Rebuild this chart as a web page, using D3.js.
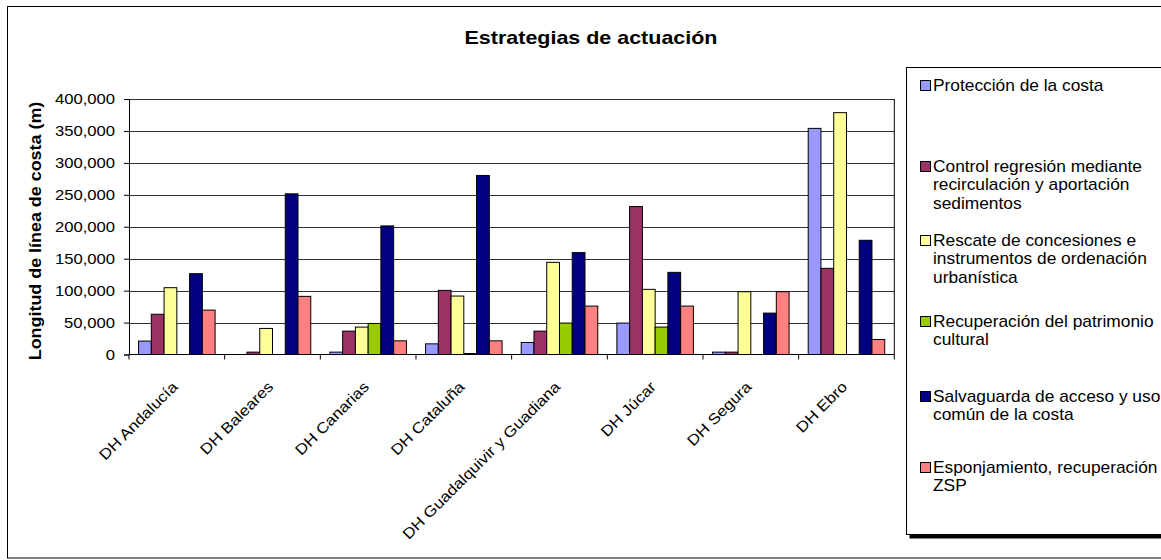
<!DOCTYPE html>
<html>
<head>
<meta charset="utf-8">
<script src="https://cdn.jsdelivr.net/npm/d3@7/dist/d3.min.js"></script>
<style>
  html, body { margin: 0; padding: 0; background: #fff; }
  svg { display: block; }
  text { font-family: "Liberation Sans", Arial, Helvetica, sans-serif; fill: #000; }
</style>
</head>
<body>
<svg id="chart" width="1161" height="560"></svg>
<script>
// ---------- DATA ----------
const categories = ["DH Andalucía", "DH Baleares", "DH Canarias", "DH Cataluña",
  "DH Guadalquivir y Guadiana", "DH Júcar", "DH Segura", "DH Ebro"];

const seriesNames = [
  "Protección de la costa",
  "Control regresión mediante\nrecirculación y aportación\nsedimentos",
  "Rescate de concesiones e\ninstrumentos de ordenación\nurbanística",
  "Recuperación del patrimonio\ncultural",
  "Salvaguarda de acceso y uso\ncomún de la costa",
  "Esponjamiento, recuperación\nZSP"
];

const proteccion    = [21000, 0, 3700, 16700, 18800, 49200, 3700, 354000];
const control       = [63000, 3700, 36600, 100400, 36600, 231600, 3700, 134900];
const rescate       = [104600, 40800, 42900, 91500, 144300, 102000, 98300, 378600];
const recuperacion  = [0, 0, 48600, 1500, 49200, 42900, 0, 0];
const salvaguarda   = [126500, 251500, 201300, 280300, 159500, 128600, 64800, 178800];
const esponjamiento = [69500, 91000, 21400, 21400, 75800, 75800, 98300, 23500];

const yTicks = [0, 50000, 100000, 150000, 200000, 250000, 300000, 350000, 400000];

const chartTitle = "Estrategias de actuación";
const yAxisTitle = "Longitud de línea de costa (m)";

// ---------- STYLE / LAYOUT ----------
const seriesValues = [proteccion, control, rescate, recuperacion, salvaguarda, esponjamiento];
const colors = ["#9999FF", "#993366", "#FFFF99", "#99CC00", "#000080", "#FF8080"];

const plot = { left: 129, right: 894.3, top: 99, bottom: 354.5 };
const svg = d3.select("#chart");

function txt(g, x, y, str, o) {
  o = o || {};
  return g.append("text")
    .attr("transform", `translate(${x},${y}) rotate(${o.rot || 0}) scale(${o.sx || 1},1)`)
    .attr("text-anchor", o.anchor || "start")
    .attr("dy", o.dy || 0)
    .style("font-size", (o.size || 15) + "px")
    .style("font-weight", o.bold ? "bold" : "normal")
    .text(str);
}

// outer frame
svg.append("rect").attr("x", 7.5).attr("y", 6.5).attr("width", 1160).attr("height", 551.5)
  .attr("fill", "#fff").attr("stroke", "#000").attr("stroke-width", 1);

// scales
const x0 = d3.scaleBand().domain(categories).range([plot.left, plot.right]).paddingInner(0).paddingOuter(0);
const nS = seriesValues.length;
const gapRatio = 1.5;
const barW = x0.bandwidth() / (nS + gapRatio);
const y = d3.scaleLinear().domain([0, 400000]).range([plot.bottom, plot.top]);

// gridlines
const grid = svg.append("g");
grid.selectAll("line").data(yTicks.filter(d => d > 0)).join("line")
  .attr("x1", plot.left).attr("x2", plot.right)
  .attr("y1", d => Math.round(y(d)) + 0.5).attr("y2", d => Math.round(y(d)) + 0.5)
  .attr("stroke", "#333").attr("stroke-width", 1);

// plot border right
svg.append("line").attr("x1", plot.right).attr("x2", plot.right)
  .attr("y1", plot.top).attr("y2", plot.bottom).attr("stroke", "#000");

// bars
const barsG = svg.append("g");
seriesValues.forEach((vals, si) => {
  barsG.append("g").selectAll("rect")
    .data(vals.map((v, i) => ({ v, c: categories[i] })).filter(d => d.v > 0))
    .join("rect")
    .attr("x", d => x0(d.c) + barW * (gapRatio / 2 + si))
    .attr("width", barW)
    .attr("y", d => y(d.v))
    .attr("height", d => y(0) - y(d.v))
    .attr("fill", colors[si])
    .attr("stroke", "#000")
    .attr("stroke-width", 1);
});

// y axis
const yAxis = d3.axisLeft(y).tickValues(yTicks).tickSize(5).tickFormat("");
const yAx = svg.append("g").attr("transform", `translate(${plot.left},0)`).call(yAxis);
yAx.selectAll("path,line").attr("stroke", "#000");
yTicks.forEach(t => {
  txt(svg, 115, y(t), d3.format(",")(t), { anchor: "end", dy: "0.35em", size: 15, sx: 1.11 });
});

// x axis (ticks at category boundaries)
svg.append("line").attr("x1", plot.left).attr("x2", plot.right)
  .attr("y1", plot.bottom).attr("y2", plot.bottom).attr("stroke", "#000");
const boundaries = categories.map(c => x0(c)).concat([plot.right]);
svg.append("g").selectAll("line").data(boundaries).join("line")
  .attr("x1", d => d).attr("x2", d => d)
  .attr("y1", plot.bottom).attr("y2", plot.bottom + 5)
  .attr("stroke", "#000");

categories.forEach(c => {
  const cx = x0(c) + x0.bandwidth() / 2;
  txt(svg, cx - 2, 384, c, { anchor: "end", rot: -45, dy: "0.35em", size: 15, sx: 1.13 });
});

// titles
txt(svg, 591, 44, chartTitle, { anchor: "middle", size: 19, bold: true, sx: 1.13 });
txt(svg, 41, 231, yAxisTitle, { anchor: "middle", rot: -90, size: 16, bold: true, sx: 1.12 });

// legend
svg.append("rect").attr("x", 909.5).attr("y", 70.5).attr("width", 300).attr("height", 468)
  .attr("fill", "#000");
svg.append("rect").attr("x", 906.5).attr("y", 67.5).attr("width", 300).attr("height", 467)
  .attr("fill", "#fff").attr("stroke", "#000").attr("stroke-width", 1);
const legendBaselines = [91, 172, 246, 327, 402, 473];
const lineH = 18.4;
seriesNames.forEach((name, i) => {
  const b = legendBaselines[i];
  svg.append("rect").attr("x", 920.5).attr("y", b - 10.5).attr("width", 10).attr("height", 10)
    .attr("fill", colors[i]).attr("stroke", "#000").attr("stroke-width", 1);
  name.split("\n").forEach((ln, k) => {
    txt(svg, 933, b + k * lineH, ln, { size: 17, sx: 1.02 });
  });
});
</script>
</body>
</html>
